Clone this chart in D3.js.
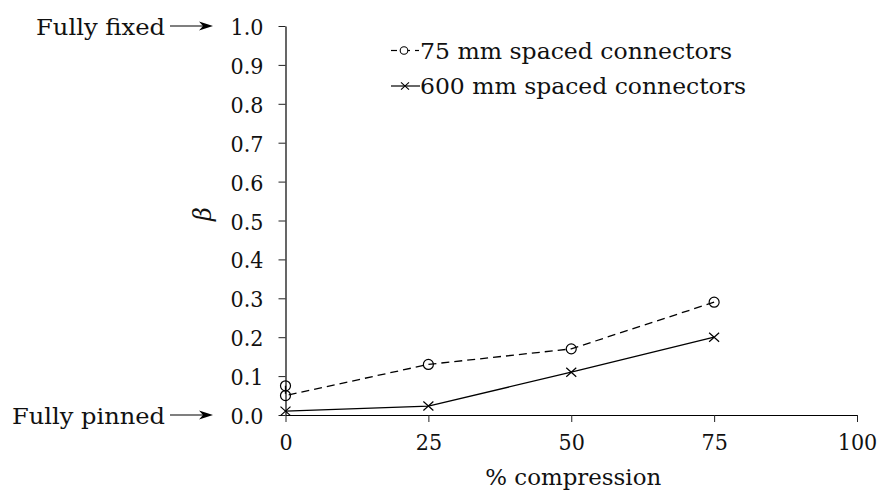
<!DOCTYPE html>
<html>
<head>
<meta charset="utf-8">
<script src="https://cdn.jsdelivr.net/npm/d3@7"></script>
<style>
  html, body { margin: 0; padding: 0; background: #fff; }
  svg { display: block; }
</style>
</head>
<body>
<svg id="chart" width="880" height="493"></svg>
<script>
// Rotational restraint factor beta vs. percentage of compression
const compression = [0, 25, 50, 75];
const compression75 = [0, 0, 25, 50, 75];
const beta75 = [0.075, 0.05, 0.13, 0.17, 0.29];
const beta600 = [0.01, 0.023, 0.11, 0.2];
const xTicks = [0, 25, 50, 75, 100];
const yTicks = [0, 0.1, 0.2, 0.3, 0.4, 0.5, 0.6, 0.7, 0.8, 0.9, 1.0];
const seriesNames = ["75 mm spaced connectors", "600 mm spaced connectors"];
const endLabels = ["Fully fixed", "Fully pinned"];

const serif = "DejaVu Serif Condensed, DejaVu Serif";
const svg = d3.select("#chart");
const fs = 23;

const x = d3.scaleLinear().domain([0, 100]).range([285.5, 857]);
const y = d3.scaleLinear().domain([0, 1]).range([415, 26]);

// axes: left and bottom only, ticks pointing outward
const xAxis = d3.axisBottom(x).tickValues(xTicks).tickSizeInner(7).tickSizeOuter(0).tickPadding(12)
  .tickFormat(d3.format("d"));
const yAxis = d3.axisLeft(y).tickValues(yTicks).tickSizeInner(7).tickSizeOuter(0).tickPadding(15)
  .tickFormat(d3.format(".1f"));

const gx = svg.append("g").attr("transform", `translate(0,${y(0)})`).call(xAxis);
const gy = svg.append("g").attr("transform", `translate(${x(0)},0)`).call(yAxis);

[gx, gy].forEach(g => {
  g.attr("font-family", serif).attr("font-size", fs);
  g.select(".domain").attr("stroke", "#000").attr("stroke-width", 1.2);
  g.selectAll(".tick line").attr("stroke", "#222").attr("stroke-width", 1);
  g.selectAll(".tick text").attr("fill", "#111");
});
gx.selectAll(".tick text").attr("dy", null).attr("y", 34.5);
gy.selectAll(".tick text").attr("dy", "0.37em");

// axis titles
svg.append("text")
  .attr("x", (x(0) + x(100)) / 2 + 2).attr("y", 485)
  .attr("text-anchor", "middle")
  .attr("font-family", serif).attr("font-size", fs).attr("fill", "#111")
  .attr("textLength", 176).attr("lengthAdjust", "spacingAndGlyphs")
  .text("% compression");

svg.append("text")
  .attr("transform", "translate(211,214) rotate(-90)")
  .attr("text-anchor", "middle")
  .attr("font-family", "DejaVu Serif").attr("font-size", 24).attr("font-style", "italic")
  .attr("fill", "#111")
  .text("β");

// boundary annotations with arrows
const annY = [1.0, 0.0];
const annWidth = [129, 153];
annY.forEach((v, i) => {
  const yy = y(v);
  svg.append("text")
    .attr("x", 165).attr("y", yy + 8.5)
    .attr("text-anchor", "end")
    .attr("font-family", serif).attr("font-size", fs).attr("fill", "#111")
    .attr("textLength", annWidth[i]).attr("lengthAdjust", "spacingAndGlyphs")
    .text(endLabels[i]);
  svg.append("line")
    .attr("x1", 170).attr("x2", 206).attr("y1", yy).attr("y2", yy)
    .attr("stroke", "#000").attr("stroke-width", 1.2);
  svg.append("path")
    .attr("d", `M213,${yy} L199,${yy - 4.5} L203,${yy} L199,${yy + 4.5} Z`)
    .attr("fill", "#000");
});

// series lines
const line = d3.line().x(d => x(d[0])).y(d => y(d[1]));
const pts75 = compression75.map((c, i) => [c, beta75[i]]);
const pts600 = compression.map((c, i) => [c, beta600[i]]);

svg.append("path").datum(pts75).attr("d", line)
  .attr("fill", "none").attr("stroke", "#000").attr("stroke-width", 1.3)
  .attr("stroke-dasharray", "8,5");
svg.append("path").datum(pts600).attr("d", line)
  .attr("fill", "none").attr("stroke", "#000").attr("stroke-width", 1.3);

function crossPath(cx, cy, s) {
  return `M${cx - s},${cy - s * 0.9} L${cx + s},${cy + s * 0.9} M${cx - s},${cy + s * 0.9} L${cx + s},${cy - s * 0.9}`;
}

svg.selectAll("circle.m75").data(pts75).join("circle")
  .attr("class", "m75")
  .attr("cx", d => x(d[0])).attr("cy", d => y(d[1])).attr("r", 5)
  .attr("fill", "none").attr("stroke", "#000").attr("stroke-width", 1.2);

svg.selectAll("path.m600").data(pts600).join("path")
  .attr("class", "m600")
  .attr("d", d => crossPath(x(d[0]), y(d[1]), 5))
  .attr("fill", "none").attr("stroke", "#000").attr("stroke-width", 1.2);

// legend
const legX = 391, legTextX = 420;
const legY = [50.5, 86];
const legWidth = [312, 326];
legY.forEach((ly, i) => {
  if (i === 0) {
    svg.append("line").attr("x1", legX).attr("x2", legX + 6).attr("y1", ly).attr("y2", ly)
      .attr("stroke", "#000").attr("stroke-width", 1.2);
    svg.append("line").attr("x1", legX + 10).attr("x2", legX + 19).attr("y1", ly).attr("y2", ly)
      .attr("stroke", "#000").attr("stroke-width", 1.2);
    svg.append("line").attr("x1", legX + 24).attr("x2", legX + 28).attr("y1", ly).attr("y2", ly)
      .attr("stroke", "#000").attr("stroke-width", 1.2);
    svg.append("circle").attr("cx", legX + 13).attr("cy", ly).attr("r", 3.8)
      .attr("fill", "#fff").attr("stroke", "#000").attr("stroke-width", 1.1);
  } else {
    svg.append("line").attr("x1", legX).attr("x2", legX + 29).attr("y1", ly).attr("y2", ly)
      .attr("stroke", "#000").attr("stroke-width", 1.2);
    svg.append("path").attr("d", crossPath(legX + 14, ly, 4))
      .attr("fill", "none").attr("stroke", "#000").attr("stroke-width", 1.1);
  }
  svg.append("text")
    .attr("x", legTextX).attr("y", ly + 8)
    .attr("font-family", serif).attr("font-size", fs).attr("fill", "#111")
    .attr("textLength", legWidth[i]).attr("lengthAdjust", "spacingAndGlyphs")
    .text(seriesNames[i]);
});
</script>
</body>
</html>
